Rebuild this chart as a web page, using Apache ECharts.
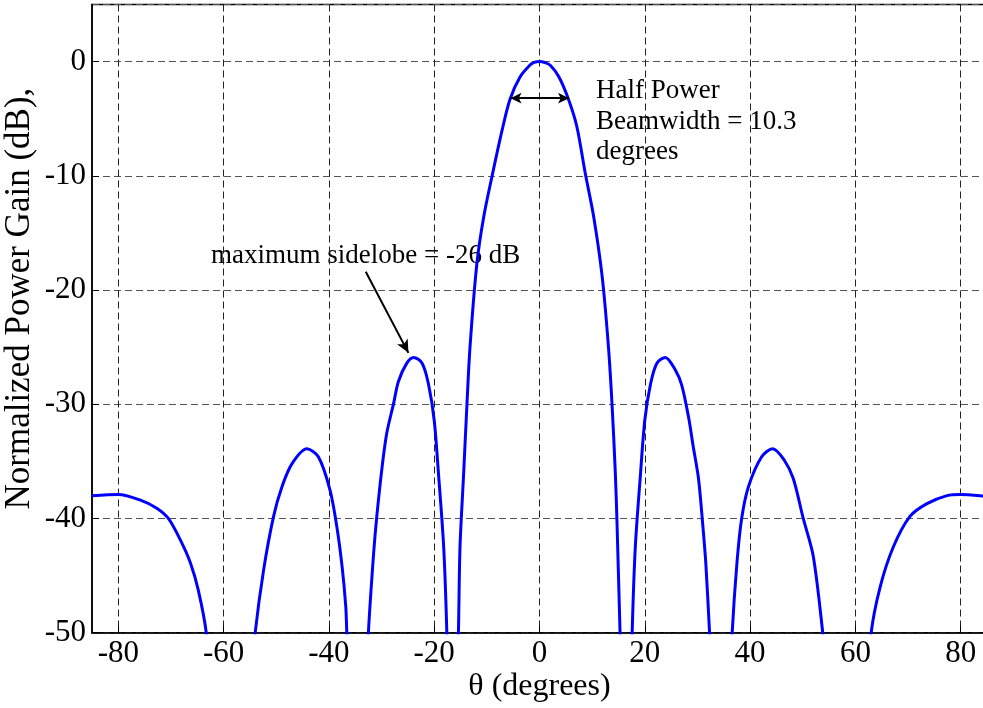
<!DOCTYPE html>
<html>
<head>
<meta charset="utf-8">
<script src="https://cdn.jsdelivr.net/npm/echarts@6/dist/echarts.min.js"></script>
<style>
  html, body { margin: 0; padding: 0; background: #fff; }
  #chart { width: 983px; height: 708px; }
</style>
</head>
<body>
<div id="chart"></div>
<script>
// angle (degrees) and normalized gain (dB); points below -50 are the nulls
const thetaDeg = [
  -85, -80, -75.8, -72.7, -70.5, -68.2, -66.3, -64.8, -63.3, -58.5,
  -54.0, -52.4, -50.5, -48.9, -47.0, -44.2, -42.0, -39.8, -38.5, -37.5, -36.8, -36.6, -34.5,
  -32.5, -31.5, -30.9, -29.9, -29.0, -27.7, -26.8, -25.2, -23.9, -22.3, -21.1, -20.0, -19.2, -18.2, -17.6, -16.5,
  -15.4, -15.1, -14.4, -13.8, -13.2, -11.9, -10.6, -9.0, -7.1, -5.6, -3.7, -1.8, -1.0, 0,
  1.0, 2.0, 3.7, 5.5, 7.1, 8.7, 10.3, 11.9, 13.1, 13.8, 14.4, 14.7, 15.3, 16.5,
  17.6, 18.2, 19.2, 20.0, 21.1, 22.3, 23.9, 25.8, 27.0, 28.3, 29.2, 30.2, 31.0, 31.6, 32.3, 34.5,
  36.6, 37.5, 38.4, 39.7, 42.2, 44.3, 46.5, 48.2, 50.1, 52.0, 53.8, 58.5,
  63.0, 64.7, 67.2, 70.4, 73.6, 77.4, 79.9, 83.7, 85
];
const gainDb = [
  -38.0, -37.9, -38.4, -39.1, -40.0, -41.9, -43.9, -46.3, -50.0, -70,
  -50.0, -44.5, -39.8, -37.2, -35.2, -33.9, -34.6, -37.5, -40.7, -44.2, -47.7, -50.0, -70,
  -50.0, -43.0, -39.8, -35.5, -32.5, -29.9, -28.0, -26.4, -25.9, -26.4, -28.2, -31.4, -36.0, -42.5, -50.0, -70,
  -50.0, -42.5, -36.0, -30.2, -25.0, -17.7, -13.6, -10.0, -6.0, -3.3, -1.35, -0.3, -0.07, 0,
  -0.08, -0.3, -1.35, -3.3, -5.7, -9.8, -13.6, -18.8, -25.0, -30.2, -36.0, -40.0, -50.0, -70,
  -50.0, -42.5, -36.0, -31.4, -28.2, -26.4, -25.9, -27.0, -28.3, -31.1, -33.7, -36.5, -40.5, -44.0, -50.0, -70,
  -50.0, -43.9, -40.0, -37.2, -34.6, -33.9, -34.9, -36.5, -40.0, -43.3, -50.0, -70,
  -50.0, -46.0, -42.5, -39.8, -38.7, -38.0, -37.9, -38.0, -38.1
];
const xTicks = [-80, -60, -40, -20, 0, 20, 40, 60, 80];

// annotation anchors in data units
const halfPowerLeft = [-5.5, -3.2];
const halfPowerRight = [5.6, -3.2];
const sidelobeArrowFrom = [-33.0, -18.4];
const sidelobeArrowTo = [-24.9, -25.5];

const font = 'Liberation Serif';
const chart = echarts.init(document.getElementById('chart'));

const option = {
  animation: false,
  backgroundColor: '#fff',
  textStyle: { fontFamily: font },
  grid: {
    left: 92, right: -4, top: 4.5, bottom: 75.3,
    outerBoundsMode: 'none',
    show: true, borderColor: '#000', borderWidth: 1.5
  },
  xAxis: {
    type: 'value',
    min: -85, max: 85,
    name: 'θ (degrees)',
    nameLocation: 'middle',
    nameGap: 38,
    nameMoveOverlap: false,
    nameTextStyle: { fontSize: 32, color: '#000', fontFamily: font },
    axisLine: { show: true, onZero: false, lineStyle: { color: '#000', width: 1.5 } },
    axisTick: { show: true, inside: true, length: 7, customValues: xTicks, lineStyle: { color: '#000' } },
    axisLabel: { customValues: xTicks, fontSize: 31, color: '#000', margin: 6, fontFamily: font },
    splitLine: { show: true, lineStyle: { color: '#222', type: [7, 4], width: 1 } }
  },
  yAxis: {
    type: 'value',
    min: -50, max: 5, interval: 10,
    name: 'Normalized Power Gain (dB),',
    nameLocation: 'middle',
    nameGap: 55,
    nameMoveOverlap: false,
    nameTextStyle: { fontSize: 35, color: '#000', fontFamily: font, padding: [0, 0, 0, 40] },
    axisLine: { show: true, onZero: false, lineStyle: { color: '#000', width: 1.5 } },
    axisTick: { show: true, inside: true, length: 7, lineStyle: { color: '#000' } },
    axisLabel: { fontSize: 31, color: '#000', margin: 6, showMaxLabel: false, fontFamily: font },
    splitLine: { show: true, lineStyle: { color: '#555', type: [7, 4], width: 1 } }
  },
  series: [{
    type: 'line',
    data: thetaDeg.map((t, i) => [t, gainDb[i]]),
    showSymbol: false,
    smooth: 0.3,
    clip: true,
    lineStyle: { color: '#0000ff', width: 3 },
    markLine: {
      silent: true,
      animation: false,
      lineStyle: { color: '#000', width: 2, type: 'solid' },
      label: { show: false },
      data: [
        [{ coord: halfPowerLeft, symbol: 'arrow', symbolSize: [8, 11] },
         { coord: halfPowerRight, symbol: 'arrow', symbolSize: [8, 11] }],
        [{ coord: sidelobeArrowFrom, symbol: 'none' },
         { coord: sidelobeArrowTo, symbol: 'arrow', symbolSize: [9, 13] }]
      ]
    }
  }],
  graphic: [
    {
      type: 'text', left: 596, top: 76,
      style: { text: 'Half Power\nBeamwidth = 10.3\ndegrees', font: '27px "Liberation Serif"', fill: '#000', lineHeight: 30.5 }
    },
    {
      type: 'text', left: 211, top: 242,
      style: { text: 'maximum sidelobe = -26 dB', font: '27px "Liberation Serif"', fill: '#000' }
    }
  ]
};

chart.setOption(option);
</script>
</body>
</html>
